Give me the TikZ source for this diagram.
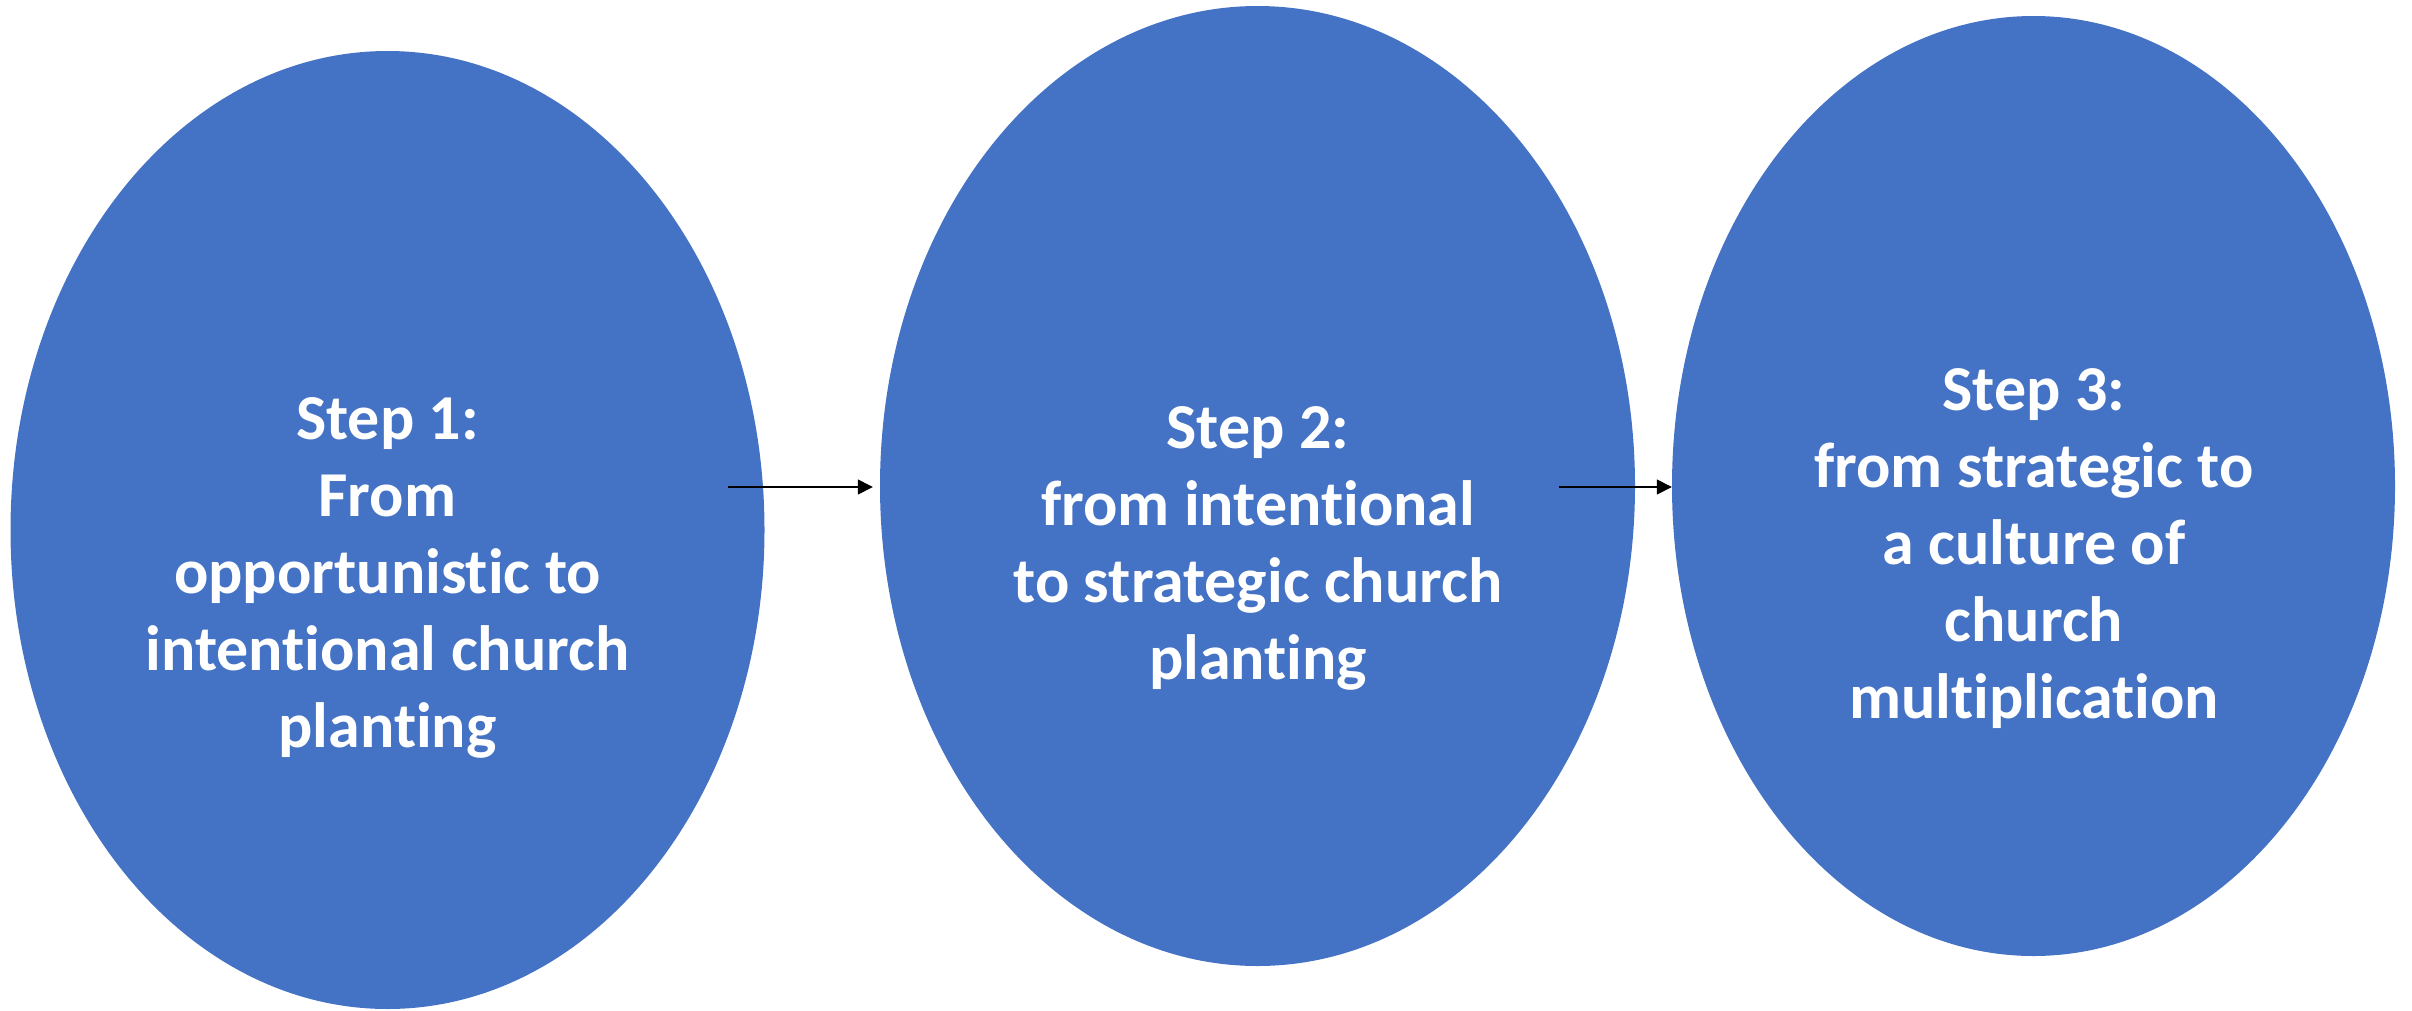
\documentclass[tikz,border=0pt]{standalone}
\usepackage{fontspec}
\setmainfont{Carlito}[RawFeature={-liga;-clig}]
\usetikzlibrary{shapes.geometric,arrows.meta}
\definecolor{stepblue}{HTML}{4472C4}
\tikzset{
  stepoval/.style={ellipse, fill=stepblue, draw=none, inner sep=0pt},
  steptext/.style={text=white, align=center, anchor=base, font=\bfseries\fontsize{64}{76.8}\selectfont},
  flowarrow/.style={line width=1.4pt, -{Triangle[length=15pt,width=15pt]}}
}
\begin{document}
\begin{tikzpicture}[x=1pt,y=-1pt]
\useasboundingbox (0,0) rectangle (2412,1010);
\node[stepoval, minimum width=754pt, minimum height=958pt] (e1) at (387.5,530) {};
\node[stepoval, minimum width=755pt, minimum height=960pt] (e2) at (1257.5,486) {};
\node[stepoval, minimum width=723pt, minimum height=940pt] (e3) at (2033.5,486) {};
\node[steptext] (t1) at (387.5,747) {Step 1:\\From\\opportunistic to\\intentional church\\planting};
\node[steptext] (t2) at (1258,679) {Step 2:\\from intentional\\to strategic church\\planting};
\node[steptext] (t3) at (2034,718) {Step 3:\\from strategic to\\a culture of\\church\\multiplication};
\coordinate (a1s) at (728,487);
\coordinate (a2s) at (1559,487);
\draw[flowarrow, shorten >=7pt] (a1s) -- (a1s -| e2.west);
\draw[flowarrow] (a2s) -- (a2s -| e3.west);
\end{tikzpicture}
\end{document}
